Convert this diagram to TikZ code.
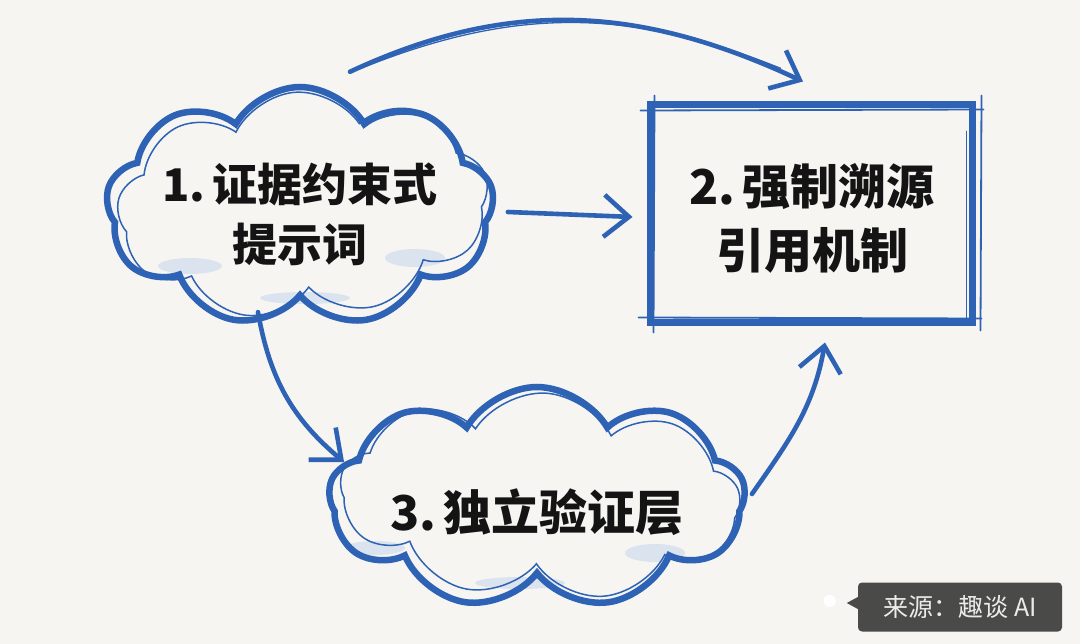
\documentclass[tikz,border=0pt]{standalone}
\usepackage{fontspec}
\newfontfamily\cjk{Noto Sans CJK SC}
\usetikzlibrary{shapes.symbols,arrows.meta}
\definecolor{ink}{HTML}{2D62B4}
\definecolor{paper}{HTML}{F6F5F1}
\definecolor{wash}{HTML}{9FBFE8}
\definecolor{txt}{HTML}{141414}
\definecolor{wmbg}{HTML}{4A4A48}
\begin{document}
\begin{tikzpicture}[x=1pt,y=-1pt,
  cloudline/.style={cloud, cloud puffs=9, cloud puff arc=120, cloud ignores aspect, draw=ink, line width=6.5pt, inner sep=0pt},
  cloudsk/.style={cloud, cloud puffs=9, cloud puff arc=120, cloud ignores aspect, draw=ink, line width=1.5pt, inner sep=0pt},
  label/.style={align=center, text=txt, font=\cjk\bfseries\fontsize{45}{60}\selectfont},
  sk/.style={draw=ink, line width=1.8pt, line cap=round},
  flow/.style={draw=ink, line width=4.6pt, line cap=round, -{Straight Barb[length=25pt,width=42pt,line width=4.6pt]}},
  washblob/.style={fill=wash, opacity=0.3}
]
\useasboundingbox (0,0) rectangle (1080,644);
\fill[paper] (0,0) rectangle (1080,644);

% washes
\fill[washblob] (190,266) ellipse (32pt and 8pt);
\fill[washblob] (415,258) ellipse (30pt and 9pt);
\fill[washblob] (305,298) ellipse (45pt and 6pt);
\fill[washblob] (375,548) ellipse (30pt and 7pt);
\fill[washblob] (520,583) ellipse (45pt and 6pt);
\fill[washblob] (655,553) ellipse (30pt and 9pt);

% cloud 1
\node[cloudline, minimum width=388pt, minimum height=240pt] (c1) at (300,207) {};
\node[cloudsk, minimum width=372pt, minimum height=226pt, rotate=4] (c1s) at (303,205) {};
\node[label] (t1) at (300,214) {1.\hspace{0.15em}证据约束式\\提示词};

% box 2
\node[draw=ink, line width=7pt, minimum width=322pt, minimum height=218pt] (b2) at (811,214) {};
\draw[sk] ([xshift=-6pt,yshift=-9pt]b2.north west) -- ([xshift=8pt,yshift=-8pt]b2.north east);
\draw[sk] ([xshift=-8pt,yshift=9pt]b2.south west) -- ([xshift=6pt,yshift=8pt]b2.south east);
\draw[sk] ([xshift=8pt,yshift=6pt]b2.north west) -- ([xshift=7pt,yshift=-6pt]b2.south west);
\draw[sk] ([xshift=-9pt,yshift=-30pt]b2.north east) -- ([xshift=-9pt,yshift=8pt]b2.south east);
\draw[sk] ([xshift=6pt,yshift=6pt]b2.north east) -- ([xshift=5pt,yshift=-4pt]b2.south east);
\node[label, font=\cjk\bfseries\fontsize{48}{64}\selectfont] (t2) at (812,218) {2.\hspace{0.15em}强制溯源\\引用机制};

% cloud 3
\node[cloudline, minimum width=416pt, minimum height=222pt] (c3) at (537,498) {};
\node[cloudsk, minimum width=400pt, minimum height=206pt, rotate=-3] (c3s) at (540,496) {};
\node[label, font=\cjk\bfseries\fontsize{48}{60}\selectfont] (t3) at (537,512) {3.\hspace{0.15em}独立验证层};

% arrows
\draw[flow] ([xshift=12pt,yshift=-5pt]c1.east) -- ([xshift=-14pt,yshift=-3pt]b2.west);
\draw[flow] ([xshift=50pt,yshift=12pt]c1.north) to[out=25,in=155] ([xshift=-8pt,yshift=20pt]b2.north);
\draw[draw=ink, line width=1.3pt] ([xshift=60pt,yshift=15pt]c1.north) to[out=22,in=158] ([xshift=-30pt,yshift=33pt]b2.north);
\draw[flow] ([xshift=-42pt,yshift=-12pt]c1.south) to[out=-80,in=140] ([xshift=18pt,yshift=36pt]c3.west);
\draw[flow] ([xshift=4pt,yshift=4pt]c3.east) to[out=55,in=-100] ([xshift=14pt,yshift=-16pt]b2.south);

% watermark
\node[fill=wmbg, rounded corners=4pt, minimum width=204pt, minimum height=49pt, inner sep=0pt,
      text=white!92!black, font=\cjk\fontsize{25}{30}\selectfont] (wm) at (960,607) {来源：趣谈 AI};
\fill[wmbg] ([yshift=10pt]wm.west) -- ([xshift=-11pt,yshift=4pt]wm.west) -- ([yshift=-2pt]wm.west) -- cycle;
\fill[white] ([xshift=-28pt,yshift=6pt]wm.west) circle (6pt);
\end{tikzpicture}
\end{document}
